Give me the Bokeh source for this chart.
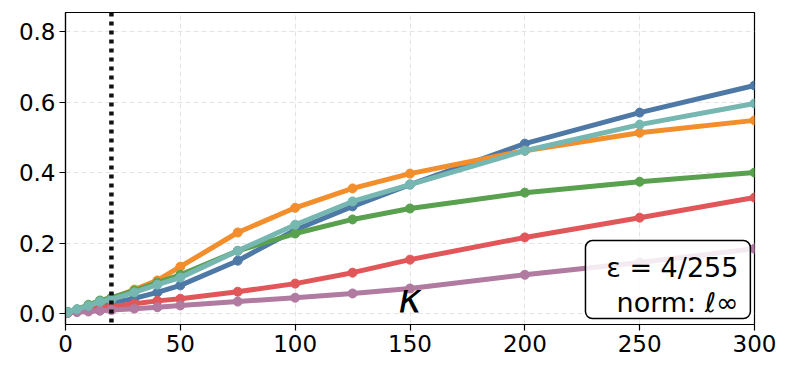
from bokeh.plotting import figure
from bokeh.models import Range1d, Label, BoxAnnotation, Span, FixedTicker, NumeralTickFormatter
from bokeh.embed import file_html
from bokeh.resources import INLINE

k_vals = [1, 5, 10, 15, 20, 30, 40, 50, 75, 100, 125, 150, 200, 250, 300]
blue = [0.003, 0.007, 0.013, 0.020, 0.030, 0.043, 0.060, 0.080, 0.150, 0.237, 0.304, 0.366, 0.482, 0.570, 0.647]
orange = [0.003, 0.010, 0.020, 0.030, 0.043, 0.068, 0.094, 0.133, 0.230, 0.300, 0.355, 0.397, 0.462, 0.513, 0.548]
green = [0.005, 0.012, 0.025, 0.037, 0.045, 0.065, 0.088, 0.110, 0.178, 0.227, 0.267, 0.298, 0.343, 0.374, 0.400]
teal = [0.004, 0.012, 0.022, 0.034, 0.040, 0.060, 0.082, 0.102, 0.178, 0.252, 0.318, 0.366, 0.462, 0.536, 0.596]
red = [0.003, 0.007, 0.012, 0.016, 0.020, 0.028, 0.036, 0.042, 0.062, 0.085, 0.116, 0.153, 0.216, 0.272, 0.329]
purple = [0.002, 0.004, 0.006, 0.008, 0.010, 0.014, 0.018, 0.023, 0.034, 0.045, 0.057, 0.071, 0.110, 0.145, 0.184]

series = [
    (blue, "#4e79a7"),
    (orange, "#f28e2b"),
    (red, "#e15759"),
    (green, "#59a14f"),
    (purple, "#b07aa1"),
    (teal, "#76b7b2"),
]

x_ticks = [0, 50, 100, 150, 200, 250, 300]
y_ticks = [0.0, 0.2, 0.4, 0.6, 0.8]
k_marker = 20

p = figure(width=784, height=360, output_backend="svg", toolbar_location=None,
           x_range=Range1d(0, 300), y_range=Range1d(-0.031, 0.854),
           min_border_left=65, min_border_right=30, min_border_top=12, min_border_bottom=36)

p.outline_line_color = "black"
p.outline_line_width = 1.2
p.background_fill_color = "white"

for ax in (p.xaxis[0], p.yaxis[0]):
    ax.major_label_text_font = "DejaVu Sans"
    ax.major_label_text_font_size = "23px"
    ax.major_label_text_color = "black"
    ax.axis_line_color = "black"
    ax.axis_line_width = 1.2
    ax.major_tick_line_color = "black"
    ax.major_tick_line_width = 1.2
    ax.major_tick_out = 6
    ax.major_tick_in = 0
    ax.minor_tick_line_color = None
p.xaxis[0].major_label_standoff = 4
p.yaxis[0].major_label_standoff = 4
p.xaxis[0].ticker = FixedTicker(ticks=x_ticks)
p.yaxis[0].ticker = FixedTicker(ticks=y_ticks)
p.yaxis[0].formatter = NumeralTickFormatter(format="0.0")

for g in (p.xgrid[0], p.ygrid[0]):
    g.grid_line_color = "#dddddd"
    g.grid_line_dash = "5 3"
    g.grid_line_width = 1
    g.grid_line_alpha = 0.8

p.add_layout(Span(location=k_marker, dimension="height", line_color="#111111",
                  line_width=4.5, line_dash="4 5"))

for ys, c in series:
    p.line(k_vals, ys, line_color=c, line_width=5)
    p.scatter(k_vals, ys, size=9, fill_color=c, line_color=c)

p.add_layout(Label(x=150, y=0.045, text="κ", text_font="DejaVu Sans",
                   text_font_style="italic", text_font_size="40px", text_align="center",
                   text_baseline="alphabetic", text_color="black"))

p.add_layout(BoxAnnotation(left=226.4, right=298.2, bottom=-0.014, top=0.207,
                           fill_color="white", fill_alpha=0.85, line_color="black",
                           line_alpha=1.0, line_width=1.5, border_radius=7))
p.add_layout(Label(x=293, y=0.131, text="ε = 4/255", text_font="DejaVu Sans",
                   text_font_size="27px", text_align="right", text_baseline="alphabetic",
                   text_color="black"))
p.add_layout(Label(x=293, y=0.032, text="norm: ℓ∞", text_font="DejaVu Sans",
                   text_font_size="27px", text_align="right", text_baseline="alphabetic",
                   text_color="black"))

open("out.html", "w").write(file_html(p, INLINE))
